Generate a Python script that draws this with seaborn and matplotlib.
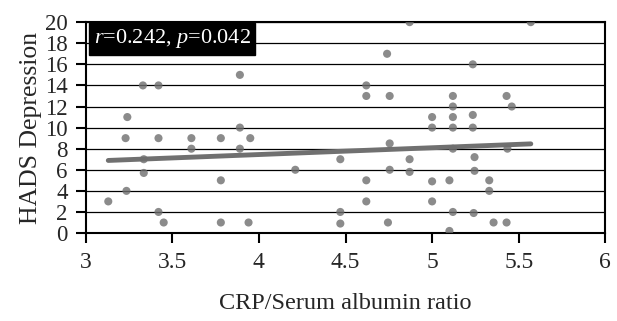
import numpy as np
import pandas as pd
import seaborn as sns
import matplotlib
matplotlib.use("Agg")
import matplotlib.pyplot as plt

# Data
crp_ratio = [3.13, 3.24, 3.23, 3.235, 3.33, 3.42, 3.335, 3.335, 3.42, 3.42, 3.45,
             3.61, 3.61, 3.78, 3.78, 3.78, 3.89, 3.89, 3.89, 3.95, 3.94,
             4.87, 4.74, 4.62, 4.62, 4.755, 4.755, 4.21, 4.47, 4.47, 4.47,
             4.62, 4.62, 4.755, 4.745, 4.87, 4.87,
             5.57, 5.235, 5.12, 5.12, 5.43, 5.46, 5.0, 5.0, 5.12, 5.12, 5.235,
             5.235, 5.12, 5.435, 5.245, 5.245, 5.0, 5.10, 5.33, 5.33, 5.0,
             5.12, 5.24, 5.355, 5.43, 5.10]
hads_dep = [3, 11, 9, 4, 14, 14, 7, 5.7, 9, 2, 1,
            9, 8, 9, 5, 1, 15, 10, 8, 9, 1,
            20, 17, 14, 13, 13, 8.5, 6, 7, 2, 0.9,
            5, 3, 6, 1, 7, 5.8,
            20, 16, 13, 12, 13, 12, 11, 10, 11, 10, 11.2,
            10, 8, 8, 7.2, 5.9, 4.9, 5, 5, 4, 3,
            2, 1.9, 1, 1, 0.2]
stats_text = r"$r$=0.242, $p$=0.042"
x_ticks = [3, 3.5, 4, 4.5, 5, 5.5, 6]
x_tick_labels = ["3", "3.5", "4", "4.5", "5", "5.5", "6"]
y_ticks = list(range(0, 21, 2))

df = pd.DataFrame({"ratio": crp_ratio, "hads": hads_dep})

sns.set_style("white")
plt.rcParams["font.family"] = ["Liberation Serif", "DejaVu Serif"]
plt.rcParams["mathtext.fontset"] = "custom"
plt.rcParams["mathtext.it"] = "Liberation Serif:italic"
plt.rcParams["mathtext.rm"] = "Liberation Serif"

fig = plt.figure(figsize=(6.17, 3.21), dpi=100)
ax = fig.add_axes([0.139, 0.274, 0.842, 0.657])

for yv in y_ticks:
    ax.axhline(yv, color="black", lw=0.9, zorder=0)

sns.regplot(data=df, x="ratio", y="hads", ax=ax, ci=None,
            scatter_kws=dict(s=34, color="#6e6e6e", edgecolor="none", zorder=3),
            line_kws=dict(color="#707070", lw=3.5, zorder=2))

ax.set_xlim(3, 6)
ax.set_ylim(0, 20)
ax.set_xticks(x_ticks)
ax.set_xticklabels(x_tick_labels)
ax.set_yticks(y_ticks)
ax.tick_params(axis="both", direction="out", length=7, width=1.5,
               color="black", bottom=True, left=True)
ax.tick_params(axis="x", pad=7, labelsize=17)
ax.tick_params(axis="y", pad=6, labelsize=16.5)
for s in ax.spines.values():
    s.set_visible(True)
    s.set_color("black")
    s.set_linewidth(1.5)

ax.set_xlabel("CRP/Serum albumin ratio", fontsize=17.5, labelpad=14)
ax.set_ylabel("HADS Depression", fontsize=18.5, labelpad=2)

ax.text(0.015, 0.975, stats_text, transform=ax.transAxes, fontsize=16,
        color="white", va="top", ha="left",
        bbox=dict(boxstyle="square,pad=0.2", fc="black", ec="black"), zorder=5)

fig.savefig("out.png", dpi=100)
